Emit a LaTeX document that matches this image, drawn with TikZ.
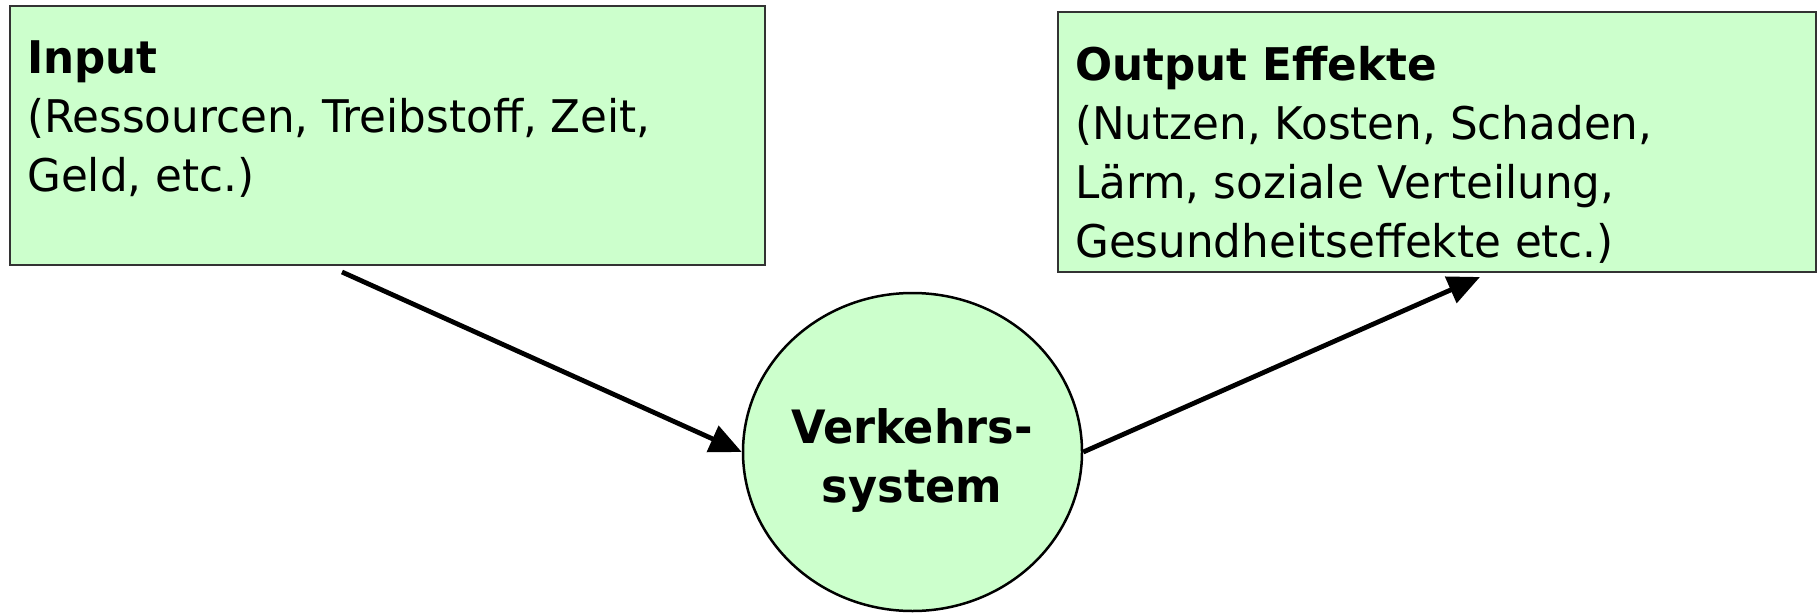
\documentclass[tikz,border=0pt]{standalone}
\usepackage{fontspec}
\setmainfont{DejaVu Sans}[FakeStretch=0.97]
\usetikzlibrary{arrows.meta,shapes.geometric}
\definecolor{boxgreen}{HTML}{CCFFCC}
\definecolor{boxline}{HTML}{333333}
\begin{document}
\begin{tikzpicture}[x=1pt,y=-1pt]
        \tikzstyle{boxstyle}=[shape=rectangle,draw=boxline,fill=boxgreen,line width=2pt,anchor=north west,inner sep=0pt]
        \tikzstyle{sysstyle}=[shape=ellipse,draw=black,fill=boxgreen,line width=2.5pt,inner sep=0pt,minimum width=339pt,minimum height=318pt]
        \tikzstyle{textstyle}=[anchor=base west,align=left,inner sep=0pt,font=\fontsize{45}{58.7}\selectfont]
        \tikzstyle{flowarrow}=[line width=4.8pt,-{Triangle[length=32pt,width=28pt]}]

        \useasboundingbox (0,0) rectangle (1817,613);

        % input box on the left (text node sits on its last baseline)
        \node[boxstyle, minimum width=755pt, minimum height=259pt] at (9, 5) (inbox) {};
        \node[textstyle] at (27, 191) (intext) {\textbf{Input}\\(Ressourcen, Treibstoff, Zeit,\\Geld, etc.)};

        % output box on the right
        \node[boxstyle, minimum width=758pt, minimum height=260pt] at (1057, 11) (outbox) {};
        \node[textstyle] at (1075, 257) (outtext) {\textbf{Output Effekte}\\(Nutzen, Kosten, Schaden,\\L\"arm, soziale Verteilung,\\Gesundheitseffekte etc.)};

        % the system in the middle
        \node[sysstyle] at (912.5, 452) (sys) {};
        \node[textstyle, anchor=base, align=center, font=\fontsize{46}{59}\selectfont\bfseries] at (912, 502) (systext) {Verkehrs-\\system};

        % free ends of the two arrows, just below the boxes
        \coordinate (instart) at (342, 272);
        \coordinate (outend) at (1480, 277);

        % arrows into and out of the system
        \draw[flowarrow] (instart) -- (sys.west);
        \draw[flowarrow] (sys.east) -- (outend);
\end{tikzpicture}
\end{document}
